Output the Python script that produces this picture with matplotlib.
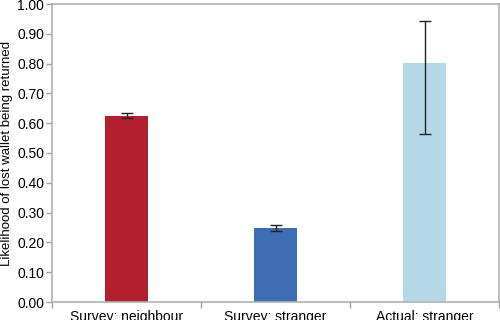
import matplotlib
matplotlib.use("Agg")
import matplotlib.pyplot as plt
import numpy as np

categories = ["Survey: neighbour", "Survey: stranger", "Actual: stranger"]
values = [0.625, 0.247, 0.801]
err_low = [0.009, 0.010, 0.237]
err_high = [0.009, 0.010, 0.143]
colors = ["#B31F2E", "#3F6DB3", "#B5D8E7"]
yticks = [0.0, 0.1, 0.2, 0.3, 0.4, 0.5, 0.6, 0.7, 0.8, 0.9, 1.0]

plt.rcParams['font.family'] = ['Liberation Sans', 'DejaVu Sans']

fig = plt.figure(figsize=(5, 3.2), dpi=100)
ax = fig.add_axes([0.104, 0.05625, 0.894, 0.93125])

x = np.arange(len(categories))
ax.bar(x, values, width=0.29, color=colors, zorder=2)
ax.errorbar(x, values, yerr=[err_low, err_high], fmt='none', ecolor='#222222',
            elinewidth=1.0, capsize=4.2, capthick=1.0, zorder=3)

ax.set_xlim(-0.5, 2.5)
ax.set_ylim(0, 1.0)
ax.set_yticks(yticks)
ax.set_yticklabels([f"{v:.2f}" for v in yticks], fontsize=10)
ax.set_xticks(x)
ax.set_xticklabels(categories, fontsize=10)
ax.tick_params(axis='x', which='major', length=0, pad=6)
ax.set_xticks([-0.5, 0.5, 1.5, 2.5], minor=True)
ax.tick_params(axis='x', which='minor', length=4, color='#a0a0a0', width=1)
ax.tick_params(axis='y', length=4, color='#a0a0a0', width=1, pad=1.5)
for s in ax.spines.values():
    s.set_color('#b0b0b0')
    s.set_linewidth(1.2)
ax.set_ylabel("Likelihood of lost wallet being returned", fontsize=9.5, labelpad=3)

fig.savefig("out.png", dpi=100)
